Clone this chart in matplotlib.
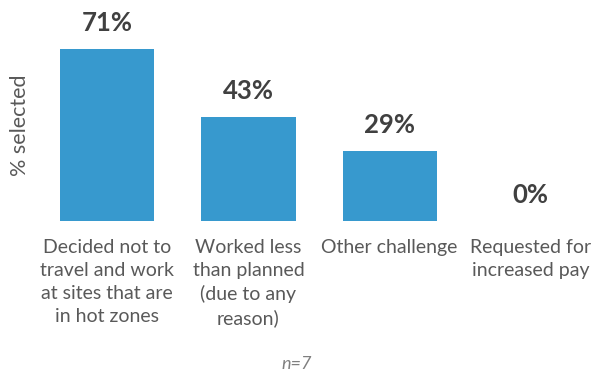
import matplotlib.pyplot as plt

plt.rcParams['font.family'] = ['Lato', 'DejaVu Sans']

categories = ["Decided not to\ntravel and work\nat sites that are\nin hot zones",
              "Worked less\nthan planned\n(due to any\nreason)",
              "Other challenge",
              "Requested for\nincreased pay"]
values = [71, 43, 29, 0]
bar_color = "#3799CE"

fig = plt.figure(figsize=(5.93, 3.71), dpi=100)
ax = fig.add_axes([0, 0.4043, 1, 0.5957])

x = range(len(values))
ax.bar(x, values, width=0.667, color=bar_color)
for xi, v in zip(x, values):
    ax.annotate(f"{v}%", (xi, v), xytext=(0, 13), textcoords="offset points",
                ha="center", va="baseline", fontsize=18.5, fontweight="bold", color="#404040")

ax.set_xlim(-0.759, 3.44)
ax.set_ylim(0, 91.3)
ax.set_xticks(list(x))
ax.set_xticklabels(categories, fontsize=14, color="#595959", linespacing=1.42, va="top")
ax.tick_params(axis="x", length=0, pad=13)
ax.set_yticks([])
for s in ax.spines.values():
    s.set_visible(False)

fig.text(0.034, 0.663, "% selected", rotation=90, ha="center", va="center",
         fontsize=15.5, color="#595959")
fig.text(0.5, 0.019, "n=7", ha="center", va="center", fontsize=13,
         style="italic", color="#7F7F7F")

fig.savefig("out.png", dpi=100)
